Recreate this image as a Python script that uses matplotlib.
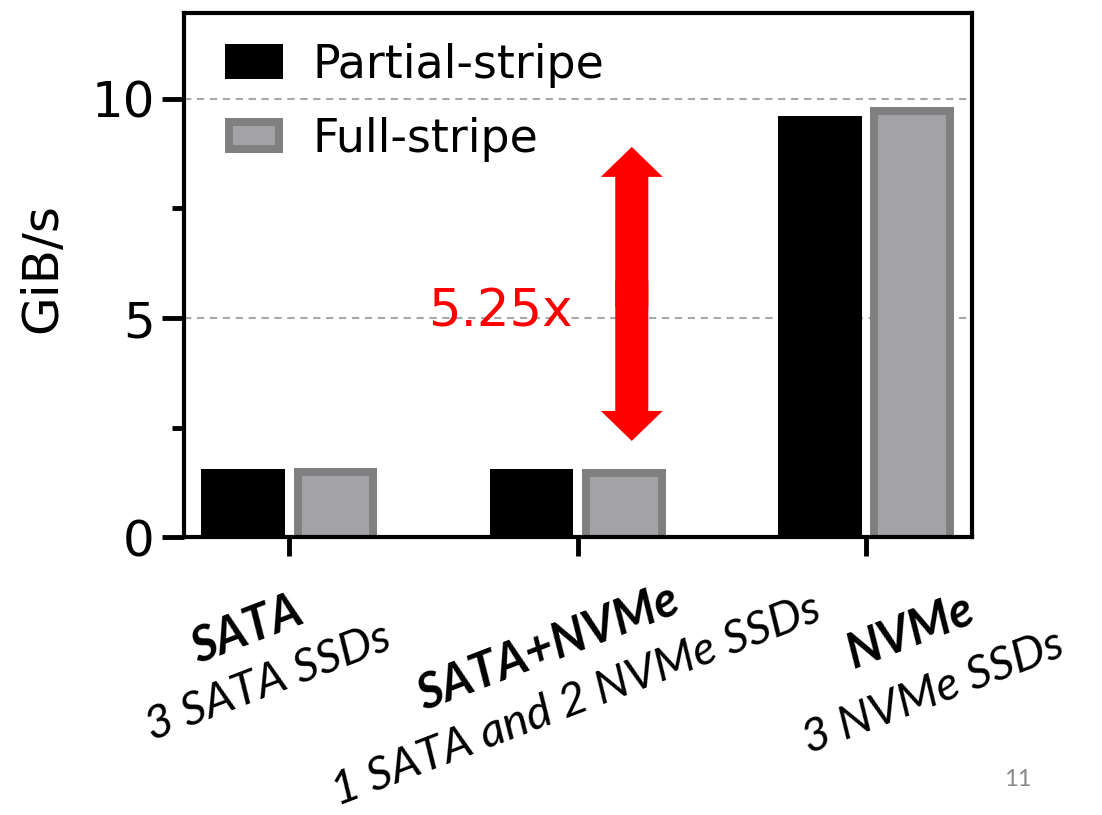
import matplotlib
matplotlib.use("Agg")
import matplotlib.pyplot as plt
import numpy as np
from matplotlib.patches import FancyArrowPatch, Patch, ArrowStyle
from matplotlib.ticker import MultipleLocator

# Throughput per configuration (GiB/s)
groups = ["SATA", "SATA+NVMe", "NVMe"]
subtitles = ["3 SATA SSDs", "1 SATA and 2 NVMe SSDs", "3 NVMe SSDs"]
partial_stripe = [1.57, 1.55, 9.60]
full_stripe = [1.58, 1.57, 9.81]
series_names = ["Partial-stripe", "Full-stripe"]
speedup_text = "5.25x"
arrow_span = (2.2, 8.9)

BLACK = "#000000"
GRAY_FACE = "#a3a2a7"
GRAY_EDGE = "#808080"
RED = "#ff0000"

fig = plt.figure(figsize=(11.02, 8.15), dpi=100)
ax = fig.add_axes([0.167, 0.3405, 0.715, 0.6435])

x = np.arange(len(groups))
ax.set_xlim(-0.365, 2.367)
ax.set_ylim(0, 11.95)

# size of one data unit in pixels, used to keep the thick gray border
# inside the bar footprint
p0 = ax.transData.transform((0, 0))
p1 = ax.transData.transform((1, 1))
px_x, px_y = p1[0] - p0[0], p1[1] - p0[1]
edge_lw = 5.76
edge_px = edge_lw * fig.dpi / 72
width = 0.29
off = 0.16

ax.bar(x - off, partial_stripe, width, color=BLACK, linewidth=0, zorder=2)
eh = edge_px / 2 / px_y
ax.bar(x + off, full_stripe, width - edge_px / px_x, bottom=-eh,
       color=GRAY_FACE, edgecolor=GRAY_EDGE, linewidth=edge_lw, zorder=2)

# axes styling
for s in ax.spines.values():
    s.set_linewidth(3)
ax.set_xticks(x)
ax.tick_params(axis="x", length=14, width=3.5, labelbottom=False)
ax.set_yticks([0, 5, 10])
ax.yaxis.set_minor_locator(MultipleLocator(2.5))
ax.tick_params(axis="y", which="major", length=16, width=3.5, pad=5, labelsize=36)
ax.tick_params(axis="y", which="minor", length=8.5, width=3.5)
ax.yaxis.grid(True, color="#a8a8a8", linewidth=1.5, linestyle=(0, (3.5, 2.7)))
ax.set_axisbelow(True)

ax.set_ylabel("GiB/s", fontsize=36, va="center")
ax.yaxis.set_label_coords(-0.18, 0.514)

# legend
handles = [Patch(facecolor=BLACK, edgecolor=BLACK, linewidth=edge_lw),
           Patch(facecolor=GRAY_FACE, edgecolor=GRAY_EDGE, linewidth=edge_lw)]
ax.legend(handles, series_names, loc="upper left", bbox_to_anchor=(0.057, 0.943),
          frameon=False, fontsize=33, handlelength=1.10, handleheight=0.54,
          handletextpad=0.72, labelspacing=0.63, borderpad=0, borderaxespad=0)

# speed-up arrow (two heads drawn outwards from the middle) and its label
mid = sum(arrow_span) / 2
style = ArrowStyle.Simple(head_length=21.6, head_width=44.6, tail_width=23.8)
for tip in arrow_span:
    start = mid + (0.3 if tip < mid else -0.3)
    ax.add_patch(FancyArrowPatch((1.1875, start), (1.1875, tip), arrowstyle=style,
                                 color=RED, linewidth=0, shrinkA=0, shrinkB=0,
                                 zorder=3))
ax.text(0.733, 4.8, speedup_text, color=RED, fontsize=37, ha="center",
        va="baseline", zorder=4)

# rotated two-line category labels
title_pos = [(-0.146, -0.1754), (-0.104, -0.2097), (0.153, -0.1801)]
sub_pos = [(-0.073, -0.2755), (-0.007, -0.3110), (0.233, -0.2945)]
rot = 21
for i, (g, sub) in enumerate(zip(groups, subtitles)):
    tx, ty = title_pos[i]
    sx, sy = sub_pos[i]
    ax.text(x[i] + tx, ty, g, transform=ax.get_xaxis_transform(),
            family="Lato", style="italic", weight="bold", fontsize=35,
            rotation=rot, rotation_mode="anchor", ha="center", va="center",
            clip_on=False)
    ax.text(x[i] + sx, sy, sub, transform=ax.get_xaxis_transform(),
            family="Lato", style="italic", fontsize=34,
            rotation=rot, rotation_mode="anchor", ha="center", va="center",
            clip_on=False)

fig.text(1018 / 1102, 1 - 780 / 815, "11", family="Lato", fontsize=17,
         color="#8a8a8a", ha="center", va="center")

fig.savefig("out.png", dpi=100)
